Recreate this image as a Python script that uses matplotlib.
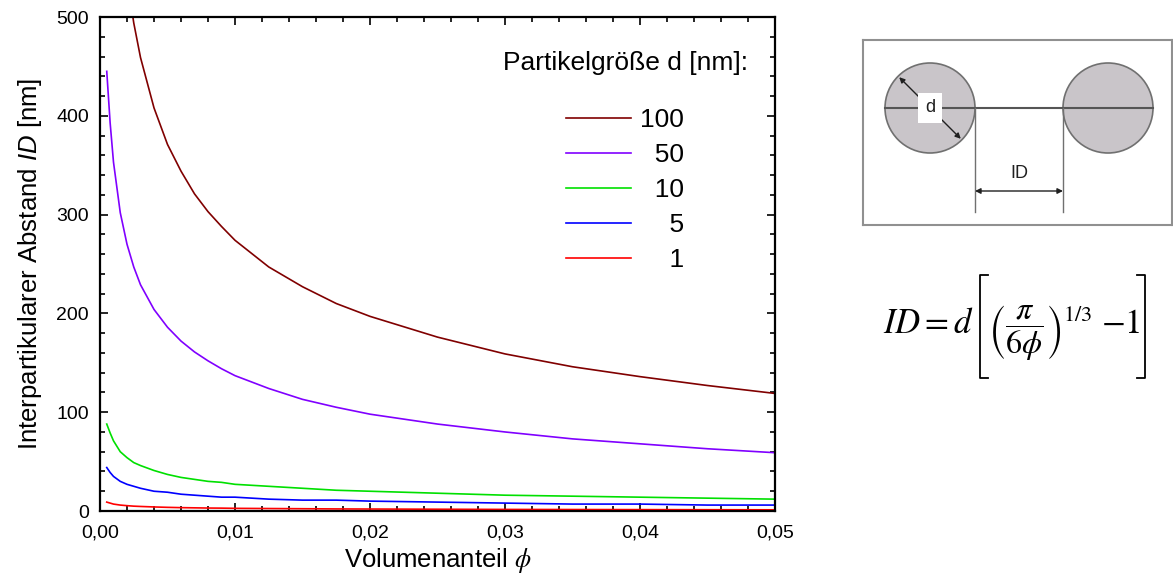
import matplotlib
matplotlib.use('Agg')
import matplotlib.pyplot as plt
from matplotlib.lines import Line2D
from matplotlib.patches import Circle
from matplotlib.ticker import MultipleLocator, FuncFormatter

plt.rcParams['font.family'] = ['Liberation Sans', 'DejaVu Sans']
plt.rcParams['mathtext.fontset'] = 'custom'
plt.rcParams['mathtext.rm'] = 'Liberation Sans'
plt.rcParams['mathtext.it'] = 'Liberation Sans:italic'

# Volumenanteil phi and read-off distances (nm) per particle size
phi = [0.0005, 0.00075, 0.001, 0.0015, 0.002, 0.0025, 0.003, 0.004, 0.005,
       0.006, 0.007, 0.008, 0.009, 0.010, 0.0125, 0.015, 0.0175, 0.020,
       0.025, 0.030, 0.035, 0.040, 0.045, 0.050]
id_100 = [915, 787, 706, 604, 540, 494, 459, 408, 371, 344, 321, 303, 288,
          274, 247, 227, 210, 197, 176, 159, 146, 136, 127, 119]
id_50 = [445, 393, 353, 302, 270, 247, 229, 204, 186, 172, 161, 152, 144,
         137, 124, 113, 105, 98, 88, 80, 73, 68, 63, 59]
id_10 = [88, 79, 71, 60, 54, 49, 46, 41, 37, 34, 32, 30, 29, 27, 25, 23, 21,
         20, 18, 16, 15, 14, 13, 12]
id_5 = [44, 39, 35, 30, 27, 25, 23, 20, 19, 17, 16, 15, 14, 14, 12, 11, 11,
        10, 9, 8, 7, 7, 6, 6]
id_1 = [9, 8, 7, 6, 5.4, 4.9, 4.6, 4.1, 3.7, 3.4, 3.2, 3.0, 2.9, 2.7, 2.5,
        2.3, 2.1, 2.0, 1.8, 1.6, 1.5, 1.4, 1.3, 1.2]

series = [(id_100, '100', '#800000'),
          (id_50, '  50', '#8000ff'),
          (id_10, '  10', '#00e000'),
          (id_5, '    5', '#0000ff'),
          (id_1, '    1', '#ff0000')]

W, H = 1173, 575


def px(x, y):
    # pixel position (y from top) -> figure fraction
    return x / W, 1 - y / H


fig = plt.figure(figsize=(W / 100, H / 100), dpi=100)
ax = fig.add_axes([100 / W, 64 / H, 675 / W, 494 / H])

for vals, lab, col in series:
    ax.plot(phi, vals, color=col, lw=1.2, label=lab)

ax.set_xlim(0, 0.05)
ax.set_ylim(0, 500)
ax.xaxis.set_major_locator(MultipleLocator(0.01))
ax.xaxis.set_minor_locator(MultipleLocator(0.002))
ax.yaxis.set_major_locator(MultipleLocator(100))
ax.yaxis.set_minor_locator(MultipleLocator(20))
ax.xaxis.set_major_formatter(FuncFormatter(lambda v, p: f'{v:.2f}'.replace('.', ',')))
ax.yaxis.set_major_formatter(FuncFormatter(lambda v, p: f'{v:.0f}'))
ax.tick_params(which='both', direction='in', top=True, right=True, width=1.2,
               labelsize=14)
ax.tick_params(axis='x', which='both', pad=10)
ax.tick_params(axis='y', which='both', pad=8)
ax.tick_params(which='major', length=6)
ax.tick_params(which='minor', length=3.5)
for s in ax.spines.values():
    s.set_linewidth(1.6)

ax.set_xlabel(r'Volumenanteil $\phi$', fontsize=18.5, math_fontfamily='stix',
              labelpad=3)
ax.set_ylabel(r'Interpartikularer Abstand $ID$ [nm]', fontsize=18.5,
              labelpad=9)

ax.text(0.778, 0.907, 'Partikelgröße d [nm]:', transform=ax.transAxes,
        ha='center', va='center', fontsize=19)
ax.legend(loc='upper center', bbox_to_anchor=(0.778, 0.843), frameon=False,
          fontsize=19, handlelength=2.46, handletextpad=0.34,
          labelspacing=0.42, borderpad=0)

# schematic: two particles with diameter d and distance ID
ins = fig.add_axes([863 / W, 350 / H, 309 / W, 185 / H])
ins.set_xlim(0, 309)
ins.set_ylim(0, 185)
ins.set_xticks([])
ins.set_yticks([])
for s in ins.spines.values():
    s.set_color('#909090')
    s.set_linewidth(1.5)

r = 45
cy = 117
c1x, c2x = 67, 245
for cx in (c1x, c2x):
    ins.add_patch(Circle((cx, cy), r, facecolor='#c9c5c9', edgecolor='#707070',
                         lw=1.2))
ins.plot([c1x - r, c2x + r], [cy, cy], color='#555555', lw=1.5)
for vx in (c1x + r, c2x - r):
    ins.plot([vx, vx], [cy, 13], color='#707070', lw=1.0)
ins.annotate('', xy=(c1x + r, 34), xytext=(c2x - r, 34),
             arrowprops=dict(arrowstyle='<|-|>', color='#202020', lw=1.0,
                             mutation_scale=8, shrinkA=0, shrinkB=0))
ins.text((c1x + c2x) / 2, 51, 'ID', ha='center', va='center', fontsize=13,
         color='#202020')
dd = r * 0.707
ins.annotate('', xy=(c1x - dd + 1, cy + dd - 1), xytext=(c1x + dd - 1, cy - dd + 1),
             arrowprops=dict(arrowstyle='<|-|>', color='#202020', lw=1.0,
                             mutation_scale=8, shrinkA=0, shrinkB=0))
ins.text(c1x, cy, 'd', ha='center', va='center', fontsize=13, color='#202020',
         bbox=dict(facecolor='white', edgecolor='none', pad=5))

# formula ID = d[(pi/(6 phi))^(1/3) - 1]
fs = 25
fig.text(*px(883, 333), r'$ID = d$', ha='left', va='baseline', fontsize=fs,
         math_fontfamily='stix')
fig.text(*px(988, 333), r'$\left(\dfrac{\pi}{6\phi}\right)^{1/3}$',
         ha='left', va='baseline', fontsize=23, math_fontfamily='stix')
fig.text(*px(1101, 333), r'$-1$', ha='left', va='baseline', fontsize=fs,
         math_fontfamily='stix')
for xv, xs in ((980, 988), (1145, 1137)):
    bx = [xs, xv, xv, xs]
    by = [275, 275, 378, 378]
    pts = [px(a, b) for a, b in zip(bx, by)]
    fig.add_artist(Line2D([p[0] for p in pts], [p[1] for p in pts],
                          color='black', lw=1.3, transform=fig.transFigure))

fig.savefig('out.png', dpi=100)
